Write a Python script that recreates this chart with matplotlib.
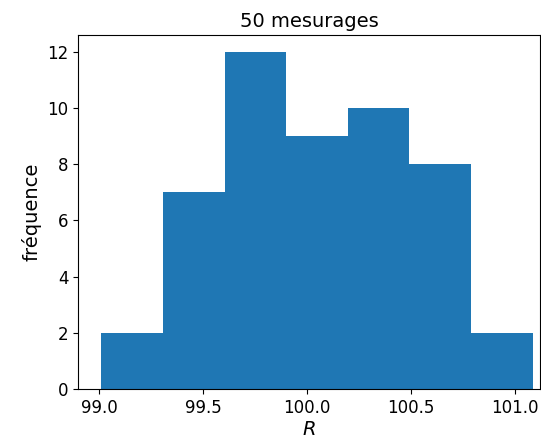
import numpy as np
import matplotlib
matplotlib.use("Agg")
import matplotlib.pyplot as plt

bin_edges = [99.01, 99.306, 99.603, 99.899, 100.196, 100.492, 100.789, 101.085]
counts = [2, 7, 12, 9, 10, 8, 2]

centers = [(a + b) / 2 for a, b in zip(bin_edges[:-1], bin_edges[1:])]

fig = plt.figure(figsize=(5.41, 4.37), dpi=100)
ax = fig.add_axes([0.1442, 0.1098, 0.8538, 0.8102])

ax.hist(centers, bins=bin_edges, weights=counts, color='#1f77b4')

ax.set_xlim(98.898, 101.12)
ax.set_xticks([99.0, 99.5, 100.0, 100.5, 101.0])
ax.tick_params(labelsize=12)
ax.set_title('50 mesurages', fontsize=14)
ax.set_xlabel('$R$', fontsize=14, labelpad=2)
ax.set_ylabel('fréquence', fontsize=14)

fig.savefig('out.png', dpi=100)
